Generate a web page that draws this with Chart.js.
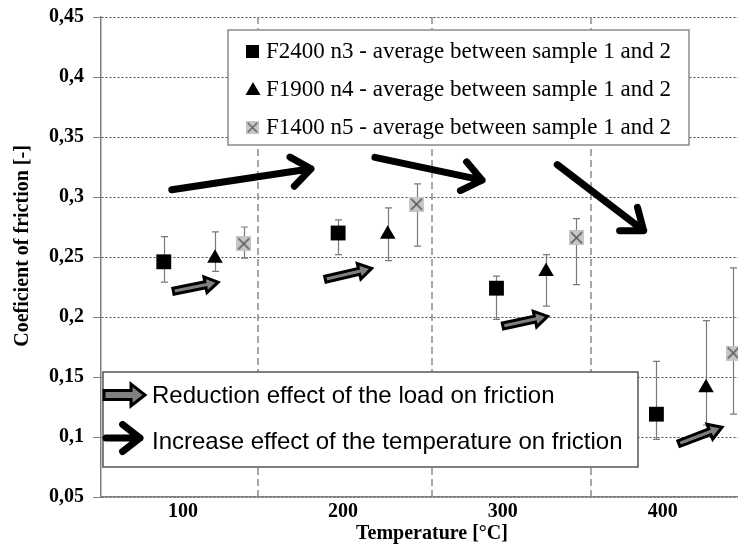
<!DOCTYPE html>
<html>
<head>
<meta charset="utf-8">
<script src="https://cdn.jsdelivr.net/npm/chart.js@4.4.1/dist/chart.umd.min.js"></script>
<style>
  html, body { margin: 0; padding: 0; background: #fff; }
</style>
</head>
<body>
<canvas id="coef" width="738" height="544"></canvas>
<script>
// axis ticks
const xTickValues = [100, 200, 300, 400];
const xTickLabels = ['100', '200', '300', '400'];
const yTickLabels = ['0,05', '0,1', '0,15', '0,2', '0,25', '0,3', '0,35', '0,4', '0,45'];

// F2400 n3 (squares): x position, average, error bar low / high
const xF2400 = [88, 197, 296, 396];
const yF2400 = [0.246, 0.270, 0.224, 0.119];
const loF2400 = [0.229, 0.252, 0.198, 0.098];
const hiF2400 = [0.267, 0.281, 0.234, 0.163];

// F1900 n4 (triangles)
const xF1900 = [120, 228, 327, 427];
const yF1900 = [0.249, 0.269, 0.238, 0.141];
const loF1900 = [0.238, 0.247, 0.209, 0.110];
const hiF1900 = [0.271, 0.291, 0.252, 0.197];

// F1400 n5 (grey boxes with x)
const xF1400 = [138, 246, 346, 444];
const yF1400 = [0.261, 0.294, 0.266, 0.170];
const loF1400 = [0.249, 0.259, 0.227, 0.119];
const hiF1400 = [0.275, 0.311, 0.282, 0.241];

// dashed separators between temperature groups
const dividerX = [147, 256, 355];

// annotation arrows [x1, y1, x2, y2] in data units
const tempArrows = [
  [93, 0.306, 180, 0.3235],
  [220, 0.333, 287, 0.314],
  [334, 0.327, 388, 0.272]
];
const loadArrows = [
  [94, 0.2215, 122, 0.229],
  [189, 0.2315, 218, 0.2405],
  [300, 0.1925, 328, 0.2005],
  [410, 0.0945, 437, 0.1082]
];

const legendTop = ['F2400 n3 - average between sample 1 and 2',
                   'F1900 n4 - average between sample 1 and 2',
                   'F1400 n5 - average between sample 1 and 2'];
const legendBottom = ['Reduction effect of the load on friction',
                      'Increase effect of the temperature on friction'];
const xTitle = 'Temperature [°C]';
const yTitle = 'Coeficient of friction [-]';

const serif = '"Liberation Serif", "Times New Roman", serif';
const sans = '"Liberation Sans", Arial, sans-serif';

function crossMarker(size) {
  const c = document.createElement('canvas');
  c.width = size; c.height = size;
  const g = c.getContext('2d');
  g.fillStyle = '#c6c6c6';
  g.fillRect(0, 0, size, size);
  g.strokeStyle = '#595959';
  g.lineWidth = 1.6;
  g.beginPath();
  g.moveTo(2, 2); g.lineTo(size - 2, size - 2);
  g.moveTo(size - 2, 2); g.lineTo(2, size - 2);
  g.stroke();
  return c;
}
const crossImg = crossMarker(15);

function pts(xs, ys) {
  return xs.map((x, i) => ({x: x, y: ys[i]}));
}

function bigArrow(ctx, x1, y1, x2, y2, lw, head) {
  const ang = Math.atan2(y2 - y1, x2 - x1), w = 0.66;
  ctx.lineWidth = lw;
  ctx.lineCap = 'round';
  ctx.lineJoin = 'round';
  ctx.strokeStyle = '#000';
  ctx.beginPath();
  ctx.moveTo(x1, y1);
  ctx.lineTo(x2, y2);
  ctx.moveTo(x2 - head * Math.cos(ang - w), y2 - head * Math.sin(ang - w));
  ctx.lineTo(x2, y2);
  ctx.lineTo(x2 - head * Math.cos(ang + w), y2 - head * Math.sin(ang + w));
  ctx.stroke();
}

function blockArrow(ctx, x1, y1, x2, y2, hs, hh, hl) {
  const ang = Math.atan2(y2 - y1, x2 - x1);
  const len = Math.hypot(x2 - x1, y2 - y1);
  ctx.save();
  ctx.translate(x1, y1);
  ctx.rotate(ang);
  ctx.beginPath();
  ctx.moveTo(0, -hs);
  ctx.lineTo(len - hl, -hs);
  ctx.lineTo(len - hl, -hh);
  ctx.lineTo(len, 0);
  ctx.lineTo(len - hl, hh);
  ctx.lineTo(len - hl, hs);
  ctx.lineTo(0, hs);
  ctx.closePath();
  ctx.fillStyle = '#808080';
  ctx.fill();
  ctx.lineWidth = 3;
  ctx.lineJoin = 'miter';
  ctx.strokeStyle = '#000';
  ctx.stroke();
  ctx.restore();
}

const series = [
  {x: xF2400, lo: loF2400, hi: hiF2400},
  {x: xF1900, lo: loF1900, hi: hiF1900},
  {x: xF1400, lo: loF1400, hi: hiF1400}
];

const extras = {
  id: 'extras',
  beforeDatasetsDraw(chart) {
    const ctx = chart.ctx, a = chart.chartArea;
    const sx = chart.scales.x, sy = chart.scales.y;
    ctx.save();
    // vertical dashed separators
    ctx.strokeStyle = '#8c8c8c';
    ctx.lineWidth = 1.5;
    ctx.setLineDash([7, 4]);
    dividerX.forEach(v => {
      const x = Math.round(sx.getPixelForValue(v));
      ctx.beginPath();
      ctx.moveTo(x, a.top);
      ctx.lineTo(x, a.bottom);
      ctx.stroke();
    });
    ctx.setLineDash([]);
    // error bars
    ctx.strokeStyle = '#7a7a7a';
    ctx.lineWidth = 1.2;
    series.forEach(s => {
      s.x.forEach((xv, i) => {
        const x = Math.round(sx.getPixelForValue(xv)) + 0.5;
        const t = sy.getPixelForValue(s.hi[i]), b = sy.getPixelForValue(s.lo[i]);
        ctx.beginPath();
        ctx.moveTo(x, t); ctx.lineTo(x, b);
        ctx.moveTo(x - 3.5, t); ctx.lineTo(x + 3.5, t);
        ctx.moveTo(x - 3.5, b); ctx.lineTo(x + 3.5, b);
        ctx.stroke();
      });
    });
    ctx.restore();
  },
  afterDatasetsDraw(chart) {
    const ctx = chart.ctx;
    const sx = chart.scales.x, sy = chart.scales.y;
    ctx.save();
    tempArrows.forEach(r => {
      bigArrow(ctx, sx.getPixelForValue(r[0]), sy.getPixelForValue(r[1]),
               sx.getPixelForValue(r[2]), sy.getPixelForValue(r[3]), 7, 24);
    });
    loadArrows.forEach(r => {
      blockArrow(ctx, sx.getPixelForValue(r[0]), sy.getPixelForValue(r[1]),
                 sx.getPixelForValue(r[2]), sy.getPixelForValue(r[3]), 3, 8, 13);
    });
    ctx.restore();
  },
  afterDraw(chart) {
    const ctx = chart.ctx;
    ctx.save();
    // axis titles
    ctx.fillStyle = '#000';
    ctx.font = 'bold 20px ' + serif;
    ctx.textAlign = 'center';
    ctx.textBaseline = 'middle';
    ctx.fillText(xTitle, 432, 534);
    ctx.save();
    ctx.translate(23, 246);
    ctx.rotate(-Math.PI / 2);
    ctx.fillText(yTitle, 0, 0);
    ctx.restore();

    // series legend
    ctx.fillStyle = '#fff';
    ctx.fillRect(228, 30, 461, 115);
    ctx.strokeStyle = '#8a8a8a';
    ctx.lineWidth = 1.5;
    ctx.strokeRect(228, 30, 461, 115);
    const rows = [51, 89, 127];
    ctx.fillStyle = '#000';
    ctx.fillRect(246, rows[0] - 6, 13, 13);
    ctx.beginPath();
    ctx.moveTo(253, rows[1] - 7); ctx.lineTo(260.5, rows[1] + 6); ctx.lineTo(245.5, rows[1] + 6);
    ctx.closePath();
    ctx.fill();
    ctx.drawImage(crossImg, 246, rows[2] - 6, 13, 13);
    ctx.font = '23px ' + serif;
    ctx.textAlign = 'left';
    ctx.fillStyle = '#000';
    legendTop.forEach((t, i) => ctx.fillText(t, 266, rows[i] + 1));

    // arrow legend
    ctx.fillStyle = '#fff';
    ctx.fillRect(103, 372, 535, 95);
    ctx.strokeStyle = '#555';
    ctx.lineWidth = 1.5;
    ctx.strokeRect(103, 372, 535, 95);
    blockArrow(ctx, 104, 395, 145, 395, 4.5, 11, 14);
    bigArrow(ctx, 106, 438, 140, 438, 7, 22);
    ctx.font = '24px ' + sans;
    ctx.fillStyle = '#000';
    ctx.fillText(legendBottom[0], 152, 396);
    ctx.fillText(legendBottom[1], 152, 442);
    ctx.restore();
  }
};

const context = document.getElementById('coef').getContext('2d');
new Chart(context, {
  type: 'scatter',
  data: {
    datasets: [
      {
        label: 'F2400 n3',
        data: pts(xF2400, yF2400),
        pointStyle: 'rect',
        pointRadius: 10.5,
        pointBackgroundColor: '#000',
        pointBorderWidth: 0
      },
      {
        label: 'F1900 n4',
        data: pts(xF1900, yF1900),
        pointStyle: 'triangle',
        pointRadius: 9,
        pointBackgroundColor: '#000',
        pointBorderWidth: 0
      },
      {
        label: 'F1400 n5',
        data: pts(xF1400, yF1400),
        pointStyle: crossImg,
        pointRadius: 8,
        pointBorderWidth: 0
      }
    ]
  },
  options: {
    responsive: false,
    animation: false,
    events: [],
    layout: {autoPadding: false, padding: {top: 17, right: 0, bottom: 0, left: 0}},
    plugins: {legend: {display: false}, tooltip: {enabled: false}},
    scales: {
      x: {
        type: 'linear',
        min: 48.75,
        max: 447,
        afterBuildTicks: s => { s.ticks = xTickValues.map(v => ({value: v})); },
        afterFit: s => { s.height = 47; s.paddingLeft = 0; s.paddingRight = 0; },
        grid: {display: false, drawTicks: false},
        border: {display: true, color: '#7f7f7f', width: 1.5},
        ticks: {
          padding: 3,
          color: '#000',
          font: {family: serif, size: 20, weight: 'bold'},
          callback: (v, i) => xTickLabels[i]
        }
      },
      y: {
        min: 0.05,
        max: 0.45,
        afterFit: s => { s.width = 101; s.paddingTop = 0; s.paddingBottom = 0; },
        grid: {color: '#4d4d4d', lineWidth: 1, tickColor: '#7f7f7f', tickLength: 8},
        border: {display: true, color: '#7f7f7f', width: 1.5, dash: [2, 2]},
        ticks: {
          stepSize: 0.05,
          padding: 9,
          color: '#000',
          font: {family: serif, size: 20, weight: 'bold'},
          callback: (v, i) => yTickLabels[i]
        }
      }
    }
  },
  plugins: [extras]
});
</script>
</body>
</html>
